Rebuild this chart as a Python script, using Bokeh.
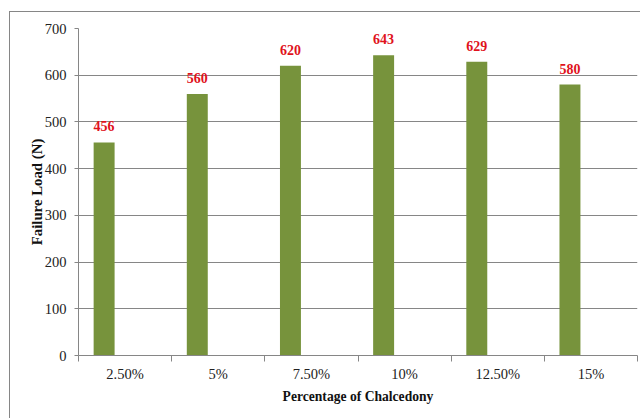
from bokeh.plotting import figure
from bokeh.models import ColumnDataSource, Range1d, FixedTicker
from bokeh.core.properties import value
from bokeh.transform import dodge
from bokeh.embed import file_html
from bokeh.resources import INLINE

# Failure load for each chalcedony content
categories = ["2.50%", "5%", "7.50%", "10%", "12.50%", "15%"]
failure_load = [456, 560, 620, 643, 629, 580]
y_ticks = [0, 100, 200, 300, 400, 500, 600, 700]

SERIF = "Liberation Serif"
GREY = "#868686"
BAR = "#77933C"
RED = "#E0121C"

centers = [i + 0.5 for i in range(len(categories))]
src = ColumnDataSource(dict(
    x=centers,
    load=failure_load,
    txt=[str(v) for v in failure_load],
))

p = figure(width=631, height=407, output_backend="svg", toolbar_location=None,
           x_range=Range1d(0, len(categories)), y_range=Range1d(0, 700),
           min_border_left=68, min_border_right=4, min_border_top=16,
           min_border_bottom=64)
p.background_fill_color = "white"
p.border_fill_color = "white"
p.outline_line_color = None
# chart-area border, offset from the page corner
p.styles = {"margin-left": "9px", "margin-top": "11px",
            "border-left": f"1px solid {GREY}", "border-top": f"1px solid {GREY}"}

# bars sit in the left half of each category slot
p.vbar(x=dodge("x", -0.225), top="load", width=0.225, source=src,
       fill_color=BAR, line_color=None)
p.text(x=dodge("x", -0.225), y="load", text="txt", source=src,
       text_align="center", text_baseline="alphabetic", y_offset=-16,
       text_font=value(SERIF), text_font_size="14px",
       text_font_style="bold", text_color=RED)

# x axis: labels centred in slots, tick marks on slot boundaries
xa = p.xaxis[0]
xa.ticker = FixedTicker(ticks=centers, minor_ticks=list(range(len(categories) + 1)))
xa.major_label_overrides = {c: lab for c, lab in zip(centers, categories)}
xa.major_tick_out = 0
xa.major_tick_in = 0
xa.minor_tick_out = 6
xa.minor_tick_in = 0
xa.minor_tick_line_color = GREY
xa.axis_line_color = GREY
xa.major_label_standoff = 4
xa.major_label_text_font = SERIF
xa.major_label_text_font_size = "14.5px"
xa.major_label_text_color = "#222222"
xa.axis_label = "Percentage of Chalcedony"
xa.axis_label_text_font = SERIF
xa.axis_label_text_font_style = "bold"
xa.axis_label_text_font_size = "13.6px"
xa.axis_label_text_color = "#111111"
xa.axis_label_standoff = 4

ya = p.yaxis[0]
ya.ticker = FixedTicker(ticks=y_ticks)
ya.minor_tick_line_color = None
ya.major_tick_out = 4
ya.major_tick_in = 0
ya.major_tick_line_color = GREY
ya.axis_line_color = GREY
ya.major_label_standoff = 8
ya.major_label_text_font = SERIF
ya.major_label_text_font_size = "14.5px"
ya.major_label_text_color = "#222222"
ya.axis_label = "Failure Load (N)"
ya.axis_label_text_font = SERIF
ya.axis_label_text_font_style = "bold"
ya.axis_label_text_font_size = "14.8px"
ya.axis_label_text_color = "#111111"
ya.axis_label_standoff = -3

p.xgrid.grid_line_color = None
p.ygrid.grid_line_color = GREY
p.ygrid.grid_line_width = 1

open("out.html", "w").write(file_html(p, INLINE))
